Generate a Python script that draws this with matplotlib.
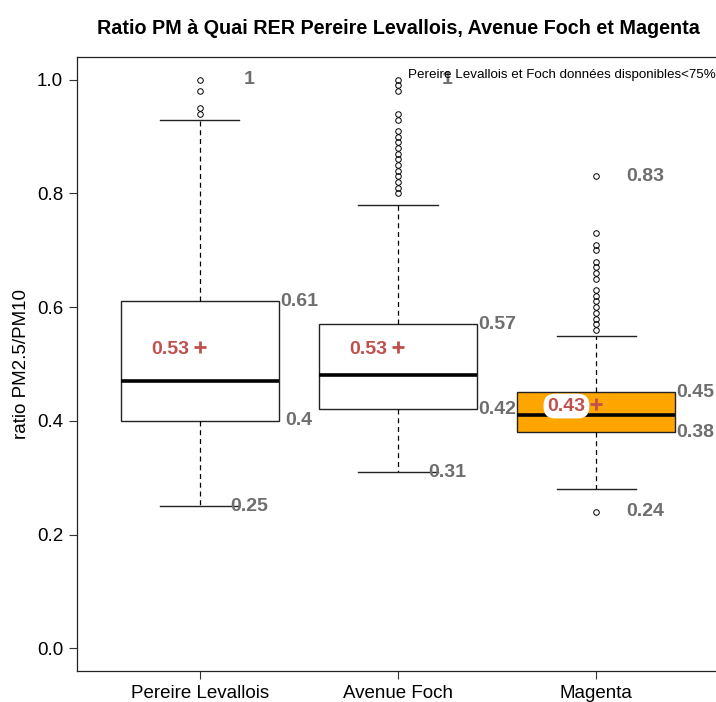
import matplotlib
matplotlib.use("Agg")
import matplotlib.pyplot as plt

plt.rcParams['font.family'] = ['Liberation Sans', 'DejaVu Sans']

stations = ['Pereire Levallois', 'Avenue Foch', 'Magenta']
q1 = [0.40, 0.42, 0.38]
medians = [0.47, 0.48, 0.41]
q3 = [0.61, 0.57, 0.45]
whisk_lo = [0.25, 0.31, 0.28]
whisk_hi = [0.93, 0.78, 0.55]
means = [0.53, 0.53, 0.43]
mins = [0.25, 0.31, 0.24]
maxs = [1.00, 1.00, 0.83]
outliers = [
    [0.94, 0.95, 0.98, 1.00],
    [0.80, 0.81, 0.82, 0.83, 0.84, 0.85, 0.86, 0.87, 0.88, 0.89, 0.90,
     0.91, 0.93, 0.94, 0.98, 0.99, 1.00],
    [0.24, 0.56, 0.57, 0.58, 0.59, 0.60, 0.61, 0.62, 0.63, 0.65, 0.66,
     0.67, 0.68, 0.70, 0.71, 0.73, 0.83],
]
box_colors = ['white', 'white', 'orange']

label_gray = '#6e6e6e'
mean_red = '#c0504d'

def fmt(v):
    return f"{round(v, 2):g}"

fig = plt.figure(figsize=(7.16, 7.02), dpi=100)
ax = fig.add_axes([77/716, 1 - 671/702, 642/716, 614/702])

pos = [1, 2, 3]
stats = []
for i in range(3):
    stats.append(dict(label=stations[i], q1=q1[i], med=medians[i], q3=q3[i],
                      whislo=whisk_lo[i], whishi=whisk_hi[i],
                      fliers=outliers[i], mean=means[i]))

bp = ax.bxp(stats, positions=pos, widths=0.8, capwidths=0.4, patch_artist=True,
            showfliers=True, showmeans=False,
            boxprops=dict(edgecolor='#222222', linewidth=1.0),
            whiskerprops=dict(color='black', linewidth=0.9, linestyle=(0, (4, 3))),
            capprops=dict(color='#222222', linewidth=1.0),
            medianprops=dict(color='black', linewidth=2.6, solid_capstyle='butt'),
            flierprops=dict(marker='o', markerfacecolor='none', markeredgecolor='black',
                            markersize=4, markeredgewidth=0.7))
for patch, c in zip(bp['boxes'], box_colors):
    patch.set_facecolor(c)

# mean markers with their values
ax.scatter(pos, means, marker='+', s=70, color=mean_red, linewidths=2, zorder=5)
for p, m in zip(pos, means):
    ax.text(p - 0.15, m - 0.004, fmt(m), color=mean_red, fontsize=14, fontweight='bold',
            ha='center', va='center', zorder=6,
            bbox=dict(boxstyle='round,pad=0.2,rounding_size=0.6', fc='white', ec='none'))

# quartile, min and max values
for i, p in enumerate(pos):
    for v in (q1[i], q3[i]):
        ax.text(p + 0.5, v, fmt(v), color=label_gray, fontsize=14, fontweight='bold',
                ha='center', va='center', zorder=4)
    for v in (mins[i], maxs[i]):
        ax.text(p + 0.25, v, fmt(v), color=label_gray, fontsize=14, fontweight='bold',
                ha='center', va='center', zorder=4)

ax.text(3.605, 1.009, 'Pereire Levallois et Foch données disponibles<75%',
        fontsize=9.6, ha='right', va='center', color='black', zorder=7)

ax.set_xlim(0.38, 3.62)
ax.set_ylim(-0.04, 1.04)
ax.set_yticks([0, 0.2, 0.4, 0.6, 0.8, 1.0])
ax.set_yticklabels(['0.0', '0.2', '0.4', '0.6', '0.8', '1.0'])
ax.set_xticks(pos)
ax.set_xticklabels(stations)
ax.tick_params(axis='both', labelsize=13.5, length=6, width=0.8, color='#333333')
ax.tick_params(axis='y', pad=4)
ax.tick_params(axis='x', pad=4)
for s in ax.spines.values():
    s.set_linewidth(0.9)
    s.set_color('#222222')

fig.text(22/716, 1 - 364/702, 'ratio PM2.5/PM10', rotation=90, fontsize=13.5,
         ha='center', va='center')
fig.text(398/716, 1 - 28/702,
         'Ratio PM à Quai RER Pereire Levallois, Avenue Foch et Magenta',
         fontsize=14.2, fontweight='bold', ha='center', va='center')

fig.savefig('out.png', dpi=100)
